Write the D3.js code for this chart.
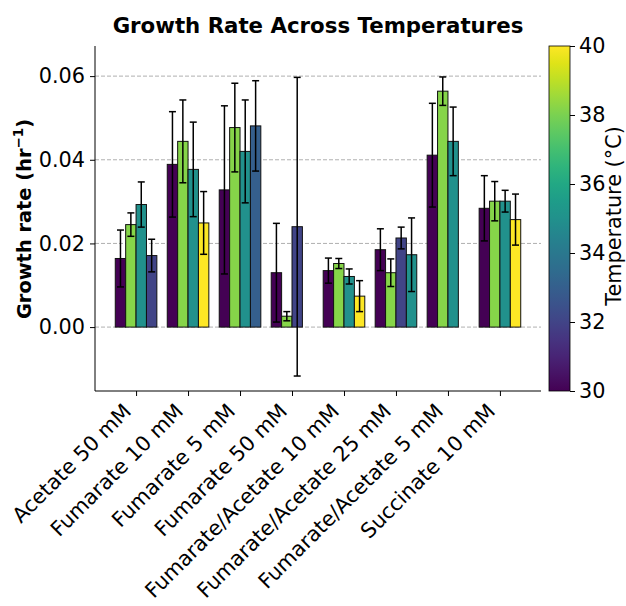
<!DOCTYPE html>
<html><head><meta charset="utf-8">
<script src="https://cdn.jsdelivr.net/npm/d3@7"></script>
<style>body{margin:0;background:#fff}svg{display:block;font-family:"DejaVu Sans",sans-serif}</style>
</head><body><svg id="c" width="626" height="606"></svg>
<script>
const categories = ["Acetate 50 mM","Fumarate 10 mM","Fumarate 5 mM","Fumarate 50 mM","Fumarate/Acetate 10 mM","Fumarate/Acetate 25 mM","Fumarate/Acetate 5 mM","Succinate 10 mM"];
const temperatures = [
  [30,38.2,35,32],
  [30,38.2,35,40],
  [30,38.2,35,33],
  [30,38.2,32,40],
  [30,38.2,35,40],
  [30,38.2,32,35],
  [30,38.2,35],
  [30,38.2,35,40]
];
const growthRates = [
  [0.0164,0.0245,0.0293,0.0171],
  [0.0389,0.0444,0.0377,0.0249],
  [0.0328,0.0477,0.0420,0.0481],
  [0.0130,0.0026,0.0240,0.0],
  [0.0135,0.0152,0.0121,0.0074],
  [0.0185,0.0130,0.0213,0.0173],
  [0.0411,0.0564,0.0444],
  [0.0284,0.0301,0.0301,0.0257]
];
const growthErrors = [
  [0.0068,0.0028,0.0054,0.0039],
  [0.0126,0.0099,0.0113,0.0075],
  [0.0201,0.0106,0.0123,0.0108],
  [0.0118,0.0011,0.0357,0.0],
  [0.0030,0.0012,0.0018,0.0037],
  [0.0050,0.0033,0.0026,0.0088],
  [0.0124,0.0034,0.0082],
  [0.0078,0.0047,0.0026,0.0061]
];
const yTicks = [0.00,0.02,0.04,0.06];
const cbTicks = [30,32,34,36,38,40];

const svg = d3.select("#c");
const L = 95, R = 541, T = 46, B = 391;
const FS = 20.8;
const x = d3.scaleLinear().domain([-0.79, 7.79]).range([L, R]);
const y = d3.scaleLinear().domain([-0.01528, 0.0672]).range([B, T]);
const color = d3.scaleSequential(d3.interpolateViridis).domain([30, 40]);
const bw = 0.2;

// grid
svg.append("g").selectAll("line").data(yTicks).join("line")
  .attr("x1", L).attr("x2", R).attr("y1", d => y(d)).attr("y2", d => y(d))
  .attr("stroke", "#b0b0b0").attr("stroke-width", 1).attr("stroke-dasharray", "4,2");

// bars
const bars = [];
categories.forEach((c, i) => {
  growthRates[i].forEach((v, j) => {
    bars.push({i, j, v, e: growthErrors[i][j], t: temperatures[i][j]});
  });
});
const gb = svg.append("g");
gb.selectAll("rect").data(bars).join("rect")
  .attr("x", d => x(d.i + (d.j - 1.5) * bw - bw / 2))
  .attr("width", d => x(bw) - x(0))
  .attr("y", d => Math.min(y(d.v), y(0)))
  .attr("height", d => Math.abs(y(0) - y(d.v)))
  .attr("fill", d => color(d.t))
  .attr("stroke", "#111").attr("stroke-width", 1);
// error bars
const ge = svg.append("g").attr("stroke", "#000").attr("stroke-width", 1.5);
bars.filter(d => d.e > 0).forEach(d => {
  const cx = x(d.i + (d.j - 1.5) * bw);
  ge.append("line").attr("x1", cx).attr("x2", cx).attr("y1", y(d.v - d.e)).attr("y2", y(d.v + d.e));
  [d.v - d.e, d.v + d.e].forEach(vv => {
    ge.append("line").attr("x1", cx - 3.5).attr("x2", cx + 3.5).attr("y1", y(vv)).attr("y2", y(vv));
  });
});

// axes
const yAxis = d3.axisLeft(y).tickValues(yTicks).tickFormat(d3.format(".2f")).tickSize(5).tickPadding(5);
const gy = svg.append("g").attr("transform", `translate(${L},0)`).call(yAxis);
gy.select(".domain").attr("d", `M0,${B}V${T}`).attr("stroke", "#000").attr("stroke-width", 1);
gy.selectAll("text").attr("font-size", FS).attr("fill", "#000").attr("font-family", "DejaVu Sans");

const xAxis = d3.axisBottom(x).tickValues(d3.range(categories.length)).tickFormat("").tickSize(5);
const gx = svg.append("g").attr("transform", `translate(0,${B})`).call(xAxis);
gx.select(".domain").attr("d", `M${L},0H${R}`).attr("stroke", "#000").attr("stroke-width", 1);
svg.append("g").selectAll("text").data(categories).join("text")
  .attr("transform", (d, i) => `translate(${x(i) - 3.5},${B + 21.5}) rotate(-45)`)
  .attr("text-anchor", "end").attr("font-size", FS).attr("fill", "#000")
  .text(d => d);

// y label
const yl = svg.append("text").attr("transform", "translate(31,219) rotate(-90)")
  .attr("text-anchor", "middle").attr("font-size", 19.4).attr("font-weight", "bold");
yl.append("tspan").text("Growth rate (hr");
yl.append("tspan").attr("font-size", 13.5).attr("dy", -8).text("\u22121");
yl.append("tspan").attr("dy", 8).text(")");

// title
svg.append("text").attr("x", 318).attr("y", 33).attr("text-anchor", "middle")
  .attr("font-size", 21.3).attr("font-weight", "bold").text("Growth Rate Across Temperatures");

// colorbar
const cbL = 549, cbW = 21;
const defs = svg.append("defs");
const grad = defs.append("linearGradient").attr("id", "vg").attr("x1", 0).attr("x2", 0).attr("y1", 1).attr("y2", 0);
d3.range(0, 1.0001, 0.05).forEach(t => grad.append("stop").attr("offset", t).attr("stop-color", d3.interpolateViridis(t)));
svg.append("rect").attr("x", cbL).attr("y", T).attr("width", cbW).attr("height", B - T)
  .attr("fill", "url(#vg)").attr("stroke", "#000").attr("stroke-width", 0.8);
const cy = d3.scaleLinear().domain([30, 40]).range([B, T]);
const gc = svg.append("g").attr("transform", `translate(${cbL + cbW},0)`)
  .call(d3.axisRight(cy).tickValues(cbTicks).tickSize(5).tickPadding(4));
gc.select(".domain").remove();
gc.selectAll("text").attr("font-size", FS).attr("fill", "#000").attr("font-family", "DejaVu Sans");
svg.append("text").attr("transform", "translate(621,216) rotate(-90)")
  .attr("text-anchor", "middle").attr("font-size", FS).text("Temperature (\u00B0C)");
</script></body></html>
